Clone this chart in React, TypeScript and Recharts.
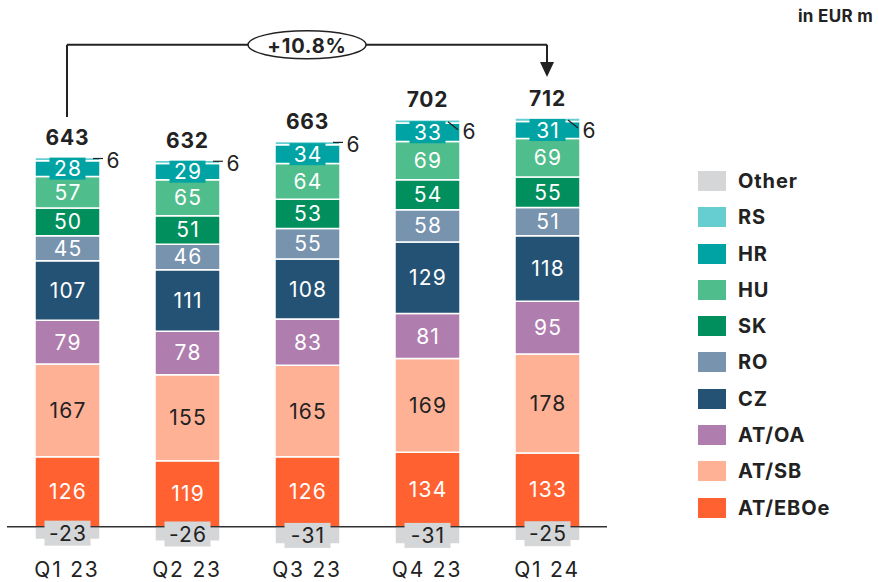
import { BarChart, Bar, XAxis, YAxis, ReferenceLine, ReferenceDot, LabelList } from "recharts";

const quarters = ["Q1 23", "Q2 23", "Q3 23", "Q4 23", "Q1 24"];
const atEboe = [126, 119, 126, 134, 133];
const atSb = [167, 155, 165, 169, 178];
const atOa = [79, 78, 83, 81, 95];
const cz = [107, 111, 108, 129, 118];
const ro = [45, 46, 55, 58, 51];
const sk = [50, 51, 53, 54, 55];
const hu = [57, 65, 64, 69, 69];
const hr = [28, 29, 34, 33, 31];
const rs = [6, 6, 6, 6, 6];
const other = [-23, -26, -31, -31, -25];
const totals = [643, 632, 663, 702, 712];
const growth = "+10.8%";

// stacking order bottom -> top
const series = [
    { key: "other", name: "Other", color: "#D5D6D8", values: other },
    { key: "eboe", name: "AT/EBOe", color: "#FF6131", values: atEboe },
    { key: "sb", name: "AT/SB", color: "#FFB196", values: atSb },
    { key: "oa", name: "AT/OA", color: "#B07DAF", values: atOa },
    { key: "cz", name: "CZ", color: "#245274", values: cz },
    { key: "ro", name: "RO", color: "#7893AE", values: ro },
    { key: "sk", name: "SK", color: "#008F5D", values: sk },
    { key: "hu", name: "HU", color: "#4FBD8C", values: hu },
    { key: "hr", name: "HR", color: "#00A3A3", values: hr },
    { key: "rs", name: "RS", color: "#66CED0", values: rs },
];

const legendOrder = ["Other", "RS", "HR", "HU", "SK", "RO", "CZ", "AT/OA", "AT/SB", "AT/EBOe"];

const data = quarters.map((q, i) => {
    const row: any = { quarter: q, total: totals[i] };
    series.forEach(s => { row[s.key] = s.values[i]; });
    return row;
});

const TXT = "#222";
const FS = 21;
const LS = 1.2;

const innerLabel = (fill: string) => (props: any) => {
    const { x, y, width, height, value } = props;
    return (
        <text x={x + width / 2 + LS / 2} y={y + height / 2} fill={fill} fontSize={FS} letterSpacing={LS}
              textAnchor="middle" dominantBaseline="central">{value}</text>
    );
};

const boxLabel = (bg: string, fill: string, w: number, h: number) => (props: any) => {
    const { x, y, width, height, value } = props;
    const cx = x + width / 2;
    const cy = y + height / 2;
    return (
        <g>
            <rect x={cx - w / 2} y={cy - h / 2} width={w} height={h} fill={bg} />
            <text x={cx + LS / 2} y={cy} fill={fill} fontSize={FS} letterSpacing={LS}
                  textAnchor="middle" dominantBaseline="central">{value}</text>
        </g>
    );
};

const topLabel = (props: any) => {
    const { x, y, width, value, index } = props;
    const right = x + width;
    const slanted = index >= 3;
    return (
        <g>
            {slanted
                ? <line x1={right - 12} y1={y + 2} x2={right - 2} y2={y + 10} stroke={TXT} strokeWidth={1.2} />
                : <line x1={right - 7} y1={y + 1} x2={right + 3} y2={y + 1} stroke={TXT} strokeWidth={1.2} />}
            <text x={slanted ? right + 9 : right + 13} y={slanted ? y + 12 : y + 3} fill={TXT} fontSize={FS}
                  textAnchor="middle" dominantBaseline="central">{value}</text>
            <text x={x + width / 2} y={y - 20} fill={TXT} fontSize={21} fontWeight={700} letterSpacing={0.8}
                  textAnchor="middle" dominantBaseline="central">{totals[index]}</text>
        </g>
    );
};

const arrowShape = (props: any) => {
    const { x1, y1, x2, y2 } = props;
    return (
        <g>
            <line x1={x1} y1={y1} x2={x2} y2={y2 - 14} stroke={TXT} strokeWidth={2} />
            <polygon points={`${x2 - 7},${y2 - 15} ${x2 + 7},${y2 - 15} ${x2},${y2}`} fill={TXT} />
        </g>
    );
};

const growthBubble = (props: any) => {
    const { cx, cy } = props;
    return (
        <g>
            <ellipse cx={cx} cy={cy} rx={59} ry={14} fill="#fff" stroke={TXT} strokeWidth={1.5} />
            <text x={cx} y={cy + 1} fill={TXT} fontSize={20} fontWeight={700} letterSpacing={0.8}
                  textAnchor="middle" dominantBaseline="central">{growth}</text>
        </g>
    );
};

export default function App() {
    return (
        <div style={{ position: "absolute", left: 0, top: 0, width: 879, height: 582, fontFamily: "Inter, sans-serif", background: "#fff" }}>
            <BarChart width={879} height={582} data={data} stackOffset="sign"
                      margin={{ top: 27, right: 272, left: 7, bottom: 3 }}>
                <XAxis dataKey="quarter" axisLine={false} tickLine={false} tickMargin={7} height={30}
                       tick={{ fill: TXT, fontSize: FS, letterSpacing: 1.8 }} />
                <YAxis hide type="number" domain={[-40, 900]} />
                {series.map(s => (
                    <Bar key={s.key} dataKey={s.key} name={s.name} stackId="a" fill={s.color}
                         stroke="#fff" strokeWidth={1.5} barSize={65} isAnimationActive={false}>
                        {s.key === "other" && <LabelList dataKey={s.key} content={boxLabel("#D5D6D8", TXT, 46, 25)} />}
                        {s.key === "hr" && <LabelList dataKey={s.key} content={boxLabel("#00A3A3", "#fff", 36, 22)} />}
                        {s.key === "rs" && <LabelList dataKey={s.key} content={topLabel} />}
                        {s.key === "sb" && <LabelList dataKey={s.key} content={innerLabel(TXT)} />}
                        {["eboe", "oa", "cz", "ro", "sk", "hu"].includes(s.key) &&
                            <LabelList dataKey={s.key} content={innerLabel("#fff")} />}
                    </Bar>
                ))}
                <ReferenceLine y={0} stroke="#333" strokeWidth={1.5} />
                <ReferenceLine segment={[{ x: "Q1 23", y: 738 }, { x: "Q1 23", y: 868 }]} stroke={TXT} strokeWidth={2} />
                <ReferenceLine segment={[{ x: "Q1 23", y: 868 }, { x: "Q1 24", y: 868 }]} stroke={TXT} strokeWidth={2} />
                <ReferenceLine segment={[{ x: "Q1 24", y: 868 }, { x: "Q1 24", y: 810 }]} shape={arrowShape} />
                <ReferenceDot x="Q3 23" y={868} shape={growthBubble} />
            </BarChart>
            <div style={{ position: "absolute", right: 6, top: 6, fontSize: 17, fontWeight: 700, color: TXT, letterSpacing: 0.3 }}>in EUR m</div>
            <div style={{ position: "absolute", left: 698, top: 171 }}>
                {legendOrder.map(n => {
                    const s = series.find(x => x.name === n)!;
                    return (
                        <div key={n} style={{ display: "flex", alignItems: "center", height: 20, marginBottom: 16.3 }}>
                            <div style={{ width: 28, height: 20, background: s.color }} />
                            <span style={{ marginLeft: 12, fontSize: 20, fontWeight: 700, color: TXT, letterSpacing: 0.9 }}>{n}</span>
                        </div>
                    );
                })}
            </div>
        </div>
    );
}
